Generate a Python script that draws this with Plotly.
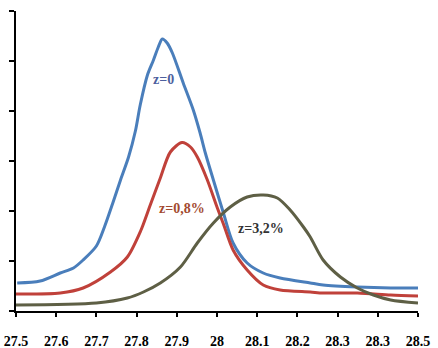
import plotly.graph_objects as go

# x positions (wavelength-like axis) and intensities
blue_x = [27.503, 27.56, 27.61, 27.643, 27.667, 27.70, 27.72, 27.74, 27.76, 27.78,
          27.797, 27.809, 27.827, 27.842, 27.854, 27.864, 27.876, 27.889, 27.916, 27.941,
          27.958, 27.971, 27.991, 28.016, 28.04, 28.075, 28.115, 28.157, 28.232, 28.264,
          28.349, 28.432, 28.5]
blue_y = [0.56, 0.60, 0.76, 0.86, 1.02, 1.30, 1.68, 2.14, 2.62, 3.08,
          3.60, 4.12, 4.72, 5.02, 5.28, 5.44, 5.36, 5.16, 4.56, 4.02,
          3.56, 3.16, 2.62, 1.96, 1.36, 0.96, 0.76, 0.66, 0.56, 0.52,
          0.48, 0.46, 0.46]

red_x = [27.5, 27.61, 27.667, 27.735, 27.777, 27.81, 27.834, 27.859, 27.884, 27.913,
         27.934, 27.951, 27.976, 28.0, 28.016, 28.04, 28.075, 28.115, 28.157, 28.232,
         28.264, 28.349, 28.432, 28.5]
red_y = [0.34, 0.36, 0.46, 0.78, 1.08, 1.60, 2.12, 2.66, 3.18, 3.37,
         3.28, 3.08, 2.62, 2.08, 1.74, 1.22, 0.82, 0.52, 0.42, 0.38,
         0.36, 0.36, 0.32, 0.30]

olive_x = [27.5, 27.70, 27.777, 27.817, 27.859, 27.909, 27.951, 27.991, 28.033, 28.075,
           28.115, 28.15, 28.182, 28.215, 28.232, 28.264, 28.307, 28.349, 28.389, 28.432, 28.5]
olive_y = [0.12, 0.16, 0.26, 0.38, 0.56, 0.88, 1.36, 1.76, 2.08, 2.28,
           2.32, 2.26, 2.02, 1.68, 1.48, 1.02, 0.68, 0.46, 0.32, 0.22, 0.16]

tick_vals = [27.5, 27.6, 27.7, 27.8, 27.9, 28.0, 28.1, 28.2, 28.3, 28.4, 28.5]
tick_text = ["27.5", "27.6", "27.7", "27.8", "27.9", "28", "28.1", "28.2", "28.3", "28.3", "28.5"]

labels = ["z=0", "z=0,8%", "z=3,2%"]
label_x = [27.866, 27.912, 28.11]
label_y = [4.64, 2.06, 1.66]
label_colors = ["#4d5f9e", "#a24a30", "#333333"]

fig = go.Figure()
fig.add_trace(go.Scatter(x=blue_x, y=blue_y, mode="lines",
                         line=dict(color="#4a7ebb", width=3, shape="spline", smoothing=0.8)))
fig.add_trace(go.Scatter(x=red_x, y=red_y, mode="lines",
                         line=dict(color="#c0413a", width=3, shape="spline", smoothing=0.8)))
fig.add_trace(go.Scatter(x=olive_x, y=olive_y, mode="lines",
                         line=dict(color="#5e5f45", width=3, shape="spline", smoothing=0.8)))

for t, xx, yy, c in zip(labels, label_x, label_y, label_colors):
    fig.add_annotation(x=xx, y=yy, text="<b>%s</b>" % t, showarrow=False,
                       font=dict(family="Liberation Serif", size=14, color=c))

fig.update_layout(
    width=438, height=348,
    margin=dict(l=16, r=20, t=11, b=37, autoexpand=False),
    paper_bgcolor="white", plot_bgcolor="white",
    showlegend=False,
    xaxis=dict(range=[27.5, 28.5], tickmode="array", tickvals=tick_vals, ticktext=tick_text,
               showgrid=False, zeroline=False, showline=True, linecolor="black", linewidth=2,
               ticks="outside", ticklen=4, tickwidth=2, tickcolor="black",
               ticklabelstandoff=12, automargin=False,
               tickfont=dict(family="Liberation Serif", size=14, color="black", weight="bold")),
    yaxis=dict(range=[0, 6], dtick=1, showticklabels=False, showgrid=False, zeroline=False,
               showline=True, linecolor="black", linewidth=2, automargin=False,
               ticks="outside", ticklen=5, tickwidth=2, tickcolor="black"),
)

fig.write_html("out.html", config={"displayModeBar": False},
               post_script="document.body.style.margin='0';document.body.style.overflow='hidden';")
